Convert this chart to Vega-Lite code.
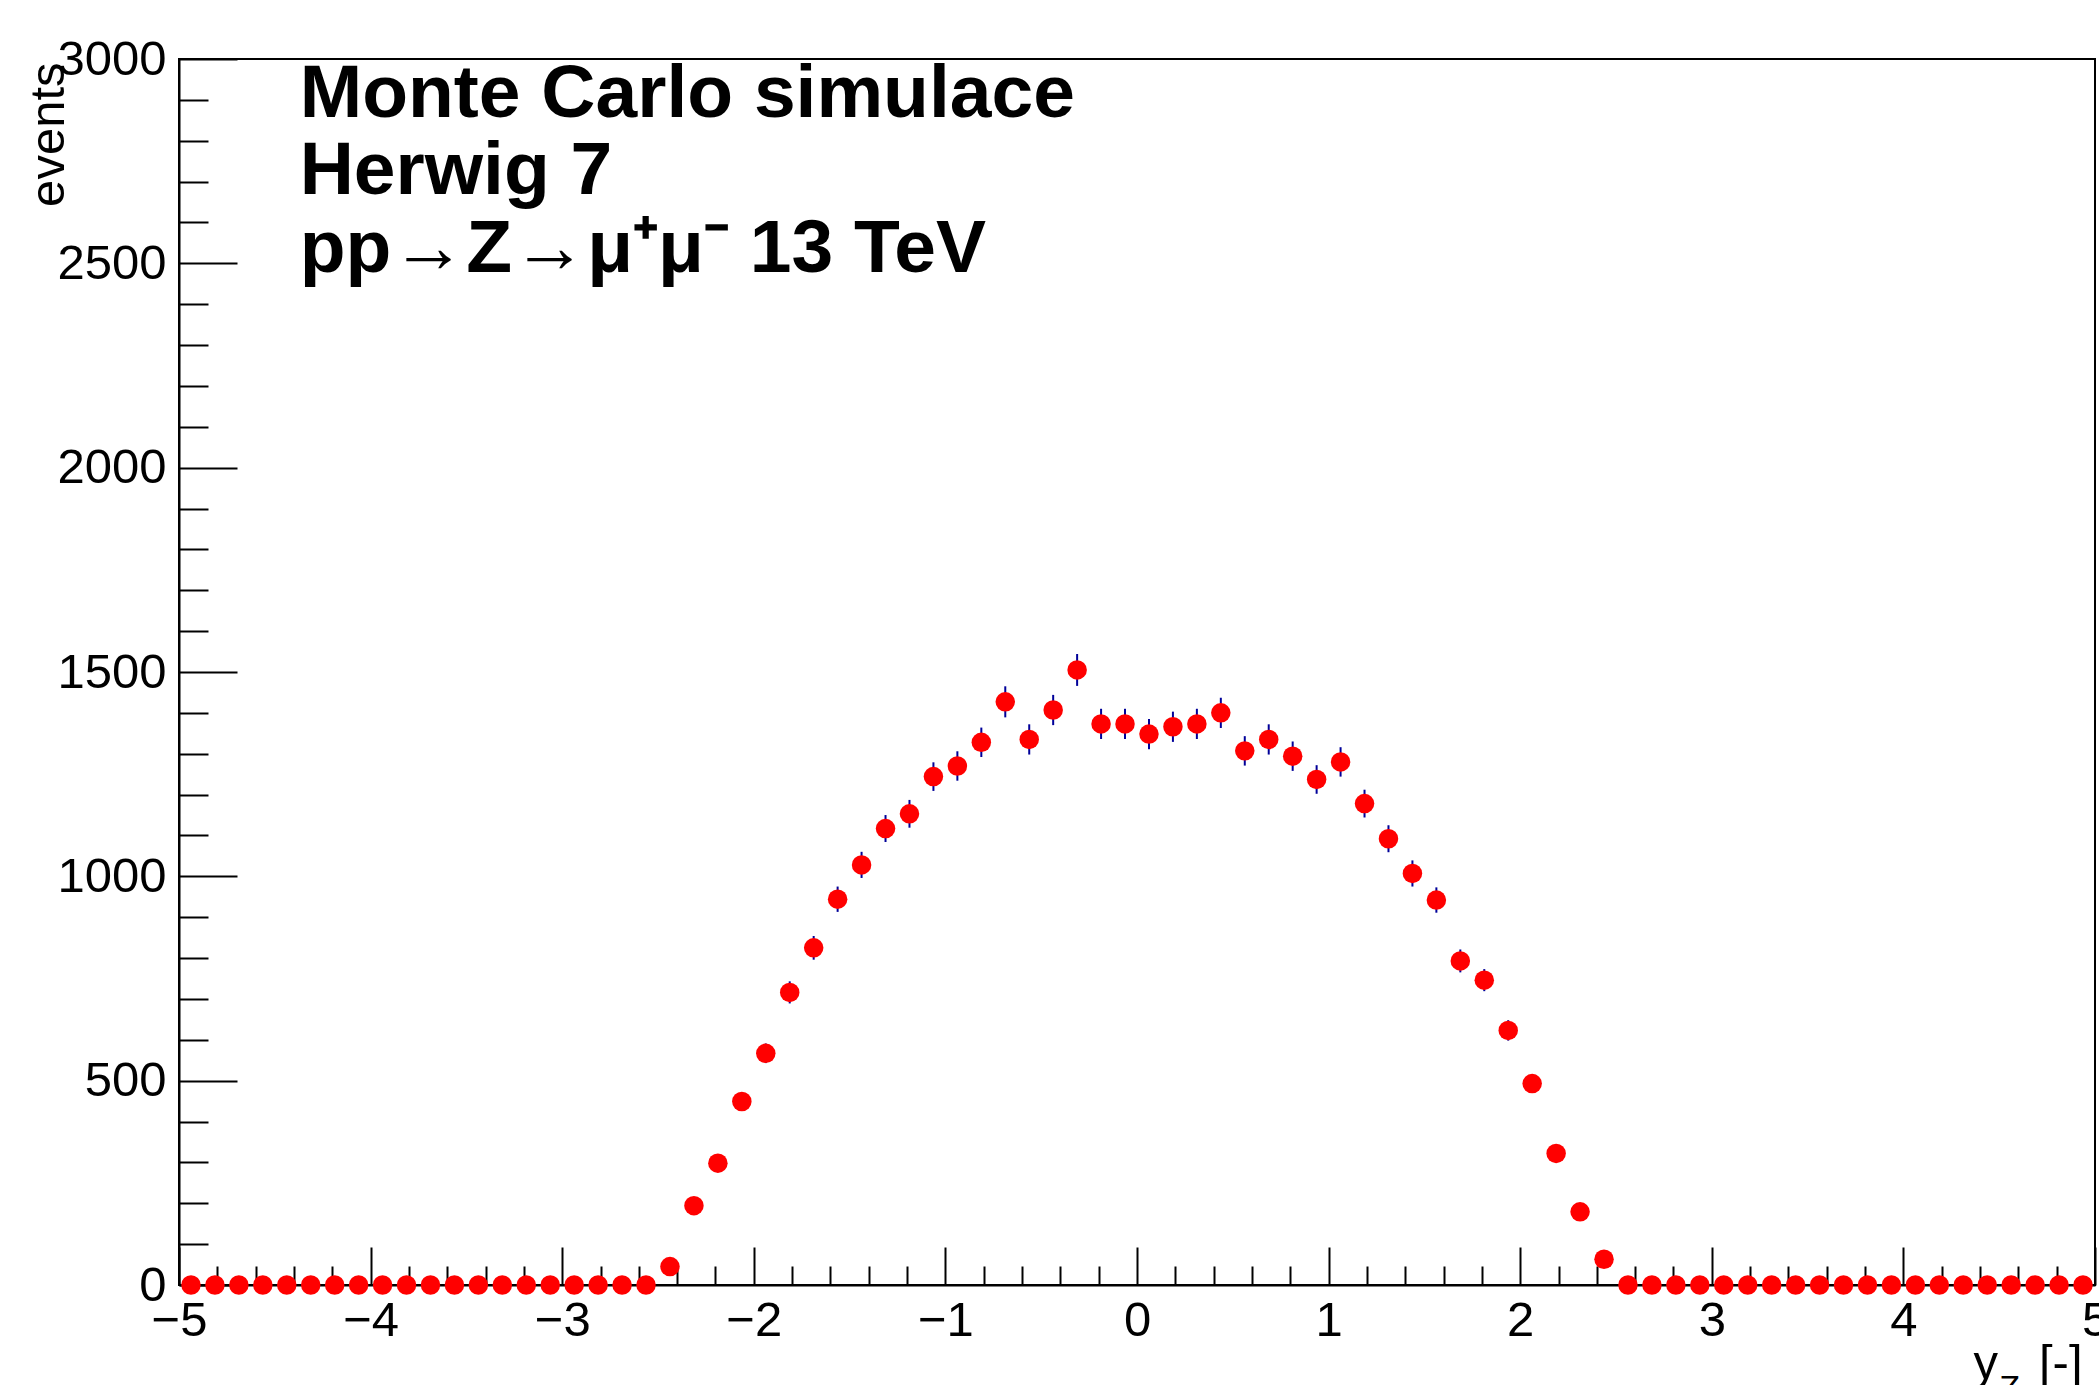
{
  "$schema": "https://vega.github.io/schema/vega-lite/v6.json",
  "autosize": "none",
  "width": 1916,
  "height": 1226,
  "padding": {"left": 179, "top": 59, "right": 4, "bottom": 100},
  "background": "white",
  "config": {
    "view": {"stroke": "black", "strokeWidth": 2},
    "font": "Liberation Sans",
    "axis": {
      "grid": false,
      "domainColor": "black",
      "domainWidth": 2,
      "tickColor": "black",
      "tickWidth": 2,
      "labelColor": "black",
      "labelFont": "Liberation Sans",
      "labelFontSize": 49,
      "titleFont": "Liberation Sans",
      "titleFontSize": 49,
      "titleFontWeight": "normal",
      "titleColor": "black",
      "labelFlush": false,
      "labelOverlap": false,
      "labelBound": false
    }
  },
  "datasets": {
    "hist": [
      {"x": -4.9375, "n": 0, "lo": 0, "hi": 0},
      {"x": -4.8125, "n": 0, "lo": 0, "hi": 0},
      {"x": -4.6875, "n": 0, "lo": 0, "hi": 0},
      {"x": -4.5625, "n": 0, "lo": 0, "hi": 0},
      {"x": -4.4375, "n": 0, "lo": 0, "hi": 0},
      {"x": -4.3125, "n": 0, "lo": 0, "hi": 0},
      {"x": -4.1875, "n": 0, "lo": 0, "hi": 0},
      {"x": -4.0625, "n": 0, "lo": 0, "hi": 0},
      {"x": -3.9375, "n": 0, "lo": 0, "hi": 0},
      {"x": -3.8125, "n": 0, "lo": 0, "hi": 0},
      {"x": -3.6875, "n": 0, "lo": 0, "hi": 0},
      {"x": -3.5625, "n": 0, "lo": 0, "hi": 0},
      {"x": -3.4375, "n": 0, "lo": 0, "hi": 0},
      {"x": -3.3125, "n": 0, "lo": 0, "hi": 0},
      {"x": -3.1875, "n": 0, "lo": 0, "hi": 0},
      {"x": -3.0625, "n": 0, "lo": 0, "hi": 0},
      {"x": -2.9375, "n": 0, "lo": 0, "hi": 0},
      {"x": -2.8125, "n": 0, "lo": 0, "hi": 0},
      {"x": -2.6875, "n": 0, "lo": 0, "hi": 0},
      {"x": -2.5625, "n": 0, "lo": 0, "hi": 0},
      {"x": -2.4375, "n": 45, "lo": 38, "hi": 52},
      {"x": -2.3125, "n": 194, "lo": 180, "hi": 208},
      {"x": -2.1875, "n": 298, "lo": 281, "hi": 315},
      {"x": -2.0625, "n": 449, "lo": 428, "hi": 470},
      {"x": -1.9375, "n": 567, "lo": 543, "hi": 591},
      {"x": -1.8125, "n": 716, "lo": 689, "hi": 743},
      {"x": -1.6875, "n": 825, "lo": 796, "hi": 854},
      {"x": -1.5625, "n": 944, "lo": 913, "hi": 975},
      {"x": -1.4375, "n": 1028, "lo": 996, "hi": 1060},
      {"x": -1.3125, "n": 1117, "lo": 1084, "hi": 1150},
      {"x": -1.1875, "n": 1153, "lo": 1119, "hi": 1187},
      {"x": -1.0625, "n": 1244, "lo": 1209, "hi": 1279},
      {"x": -0.9375, "n": 1270, "lo": 1234, "hi": 1306},
      {"x": -0.8125, "n": 1328, "lo": 1292, "hi": 1364},
      {"x": -0.6875, "n": 1427, "lo": 1389, "hi": 1465},
      {"x": -0.5625, "n": 1335, "lo": 1298, "hi": 1372},
      {"x": -0.4375, "n": 1407, "lo": 1370, "hi": 1444},
      {"x": -0.3125, "n": 1505, "lo": 1466, "hi": 1544},
      {"x": -0.1875, "n": 1373, "lo": 1336, "hi": 1410},
      {"x": -0.0625, "n": 1373, "lo": 1336, "hi": 1410},
      {"x": 0.0625, "n": 1348, "lo": 1311, "hi": 1385},
      {"x": 0.1875, "n": 1366, "lo": 1329, "hi": 1403},
      {"x": 0.3125, "n": 1373, "lo": 1336, "hi": 1410},
      {"x": 0.4375, "n": 1400, "lo": 1363, "hi": 1437},
      {"x": 0.5625, "n": 1307, "lo": 1271, "hi": 1343},
      {"x": 0.6875, "n": 1335, "lo": 1298, "hi": 1372},
      {"x": 0.8125, "n": 1294, "lo": 1258, "hi": 1330},
      {"x": 0.9375, "n": 1237, "lo": 1202, "hi": 1272},
      {"x": 1.0625, "n": 1280, "lo": 1244, "hi": 1316},
      {"x": 1.1875, "n": 1178, "lo": 1144, "hi": 1212},
      {"x": 1.3125, "n": 1092, "lo": 1059, "hi": 1125},
      {"x": 1.4375, "n": 1007, "lo": 975, "hi": 1039},
      {"x": 1.5625, "n": 942, "lo": 911, "hi": 973},
      {"x": 1.6875, "n": 793, "lo": 765, "hi": 821},
      {"x": 1.8125, "n": 746, "lo": 719, "hi": 773},
      {"x": 1.9375, "n": 623, "lo": 598, "hi": 648},
      {"x": 2.0625, "n": 493, "lo": 471, "hi": 515},
      {"x": 2.1875, "n": 322, "lo": 304, "hi": 340},
      {"x": 2.3125, "n": 179, "lo": 166, "hi": 192},
      {"x": 2.4375, "n": 63, "lo": 55, "hi": 71},
      {"x": 2.5625, "n": 0, "lo": 0, "hi": 0},
      {"x": 2.6875, "n": 0, "lo": 0, "hi": 0},
      {"x": 2.8125, "n": 0, "lo": 0, "hi": 0},
      {"x": 2.9375, "n": 0, "lo": 0, "hi": 0},
      {"x": 3.0625, "n": 0, "lo": 0, "hi": 0},
      {"x": 3.1875, "n": 0, "lo": 0, "hi": 0},
      {"x": 3.3125, "n": 0, "lo": 0, "hi": 0},
      {"x": 3.4375, "n": 0, "lo": 0, "hi": 0},
      {"x": 3.5625, "n": 0, "lo": 0, "hi": 0},
      {"x": 3.6875, "n": 0, "lo": 0, "hi": 0},
      {"x": 3.8125, "n": 0, "lo": 0, "hi": 0},
      {"x": 3.9375, "n": 0, "lo": 0, "hi": 0},
      {"x": 4.0625, "n": 0, "lo": 0, "hi": 0},
      {"x": 4.1875, "n": 0, "lo": 0, "hi": 0},
      {"x": 4.3125, "n": 0, "lo": 0, "hi": 0},
      {"x": 4.4375, "n": 0, "lo": 0, "hi": 0},
      {"x": 4.5625, "n": 0, "lo": 0, "hi": 0},
      {"x": 4.6875, "n": 0, "lo": 0, "hi": 0},
      {"x": 4.8125, "n": 0, "lo": 0, "hi": 0},
      {"x": 4.9375, "n": 0, "lo": 0, "hi": 0}
    ],
    "notes": [
      {"text": "Monte Carlo simulace", "x": -4.37, "y": 2858},
      {"text": "Herwig 7", "x": -4.37, "y": 2669},
      {"text": "pp→Z→μ⁺μ⁻ 13 TeV", "x": -4.37, "y": 2479}
    ],
    "sub": [
      {"text": "Z", "x": 4.5, "y": -280}
    ]
  },
  "layer": [
    {
      "data": {"name": "hist"},
      "mark": {"type": "rule", "color": "#000099", "strokeWidth": 2},
      "encoding": {
        "x": {
          "field": "x", "type": "quantitative",
          "scale": {"domain": [-5, 5], "nice": false, "zero": false},
          "axis": {
            "orient": "bottom",
            "values": [-4.8, -4.6, -4.4, -4.2, -3.8, -3.6, -3.4, -3.2, -2.8, -2.6, -2.4, -2.2, -1.8, -1.6, -1.4, -1.2, -0.8, -0.6, -0.4, -0.2, 0.2, 0.4, 0.6, 0.8, 1.2, 1.4, 1.6, 1.8, 2.2, 2.4, 2.6, 2.8, 3.2, 3.4, 3.6, 3.8, 4.2, 4.4, 4.6, 4.8],
            "labels": false, "domain": false, "tickSize": -19, "title": null
          }
        },
        "y": {
          "field": "lo", "type": "quantitative",
          "scale": {"domain": [0, 3000], "nice": false},
          "axis": {
            "orient": "left",
            "values": [100, 200, 300, 400, 600, 700, 800, 900, 1100, 1200, 1300, 1400, 1600, 1700, 1800, 1900, 2100, 2200, 2300, 2400, 2600, 2700, 2800, 2900],
            "labels": false, "domain": false, "tickSize": -29, "title": null
          }
        },
        "y2": {"field": "hi"}
      }
    },
    {
      "data": {"name": "hist"},
      "mark": {"type": "point", "shape": "circle", "filled": true, "color": "#ff0000", "opacity": 1, "size": 380},
      "encoding": {
        "x": {
          "field": "x", "type": "quantitative",
          "axis": {
            "orient": "bottom",
            "values": [-5, -4, -3, -2, -1, 0, 1, 2, 3, 4, 5],
            "tickSize": -38, "labelPadding": 49, "labelBaseline": "top",
            "title": "y\u00a0\u00a0\u00a0[-]", "titleAlign": "right", "titleAnchor": "end",
            "titleBaseline": "alphabetic", "titleX": 1903, "titleY": 93
          }
        },
        "y": {
          "field": "n", "type": "quantitative",
          "axis": {
            "orient": "left", "format": "d",
            "values": [0, 500, 1000, 1500, 2000, 2500, 3000],
            "tickSize": -58, "labelPadding": 71,
            "title": "events", "titleAngle": -90, "titleAlign": "right", "titleAnchor": "end",
            "titleBaseline": "alphabetic", "titleX": -116, "titleY": 3
          }
        }
      }
    },
    {
      "data": {"name": "notes"},
      "mark": {"type": "text", "align": "left", "baseline": "alphabetic", "fontSize": 75, "fontWeight": "bold", "font": "Liberation Sans", "color": "black"},
      "encoding": {
        "x": {"field": "x", "type": "quantitative", "axis": null},
        "y": {"field": "y", "type": "quantitative", "axis": null},
        "text": {"field": "text"}
      }
    },
    {
      "data": {"name": "sub"},
      "mark": {"type": "text", "align": "left", "baseline": "alphabetic", "fontSize": 34, "font": "Liberation Sans", "color": "black"},
      "encoding": {
        "x": {"field": "x", "type": "quantitative", "axis": null},
        "y": {"field": "y", "type": "quantitative", "axis": null},
        "text": {"field": "text"}
      }
    }
  ],
  "resolve": {"axis": {"x": "independent", "y": "independent"}}
}
